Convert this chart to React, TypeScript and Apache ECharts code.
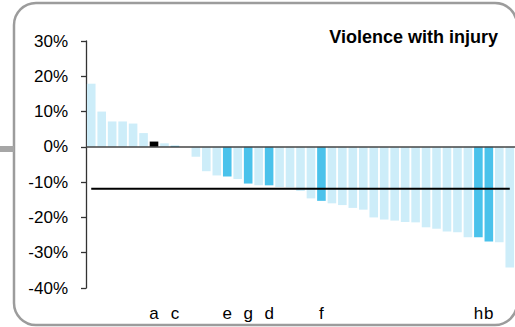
import React, { useEffect, useRef } from "react";
import * as echarts from "echarts";

const categories: string[] = [
  "", "", "", "", "", "", "a", "", "c", "",
  "", "", "", "e", "", "g", "", "d", "", "",
  "", "", "f", "", "", "", "", "", "", "",
  "", "", "", "", "", "", "", "h", "b", "", "",
];

const values: number[] = [
  17.9, 10.0, 7.2, 7.2, 6.6, 3.9, 1.5, 1.0, 0.3, 0,
  -2.8, -6.9, -8.1, -8.4, -9.1, -10.4, -10.9, -10.9, -11.4, -11.5,
  -12.5, -14.6, -15.3, -16.0, -16.5, -17.3, -17.8, -20.0, -20.6, -20.9,
  -21.3, -21.4, -22.8, -23.2, -24.0, -24.2, -25.6, -25.6, -26.8, -27.0, -34.2,
];

const blackLabels: string[] = ["a"];
const darkLabels: string[] = ["c", "e", "g", "d", "f", "h", "b"];
const average = -11.9;
const yTicks: number[] = [-40, -30, -20, -10, 0, 10, 20, 30];
const titleText = "Violence with injury";

const FONT = "'Liberation Sans', Arial, Helvetica, sans-serif";
const LIGHT = "#CDEDF9";
const DARK = "#4AC2EB";

export default function App() {
  const ref = useRef<HTMLDivElement>(null);
  useEffect(() => {
    if (!ref.current) return;
    const chart = echarts.init(ref.current, undefined, { renderer: "svg" });
    const barData = values.map((v, i) => {
      const lab = categories[i];
      let color = LIGHT;
      if (blackLabels.includes(lab)) color = "#000000";
      else if (darkLabels.includes(lab)) color = DARK;
      return { value: v, itemStyle: { color } };
    });
    chart.setOption({
      animation: false,
      grid: { left: 86, right: -1, top: 41, bottom: 39, containLabel: false },
      xAxis: {
        type: "category",
        data: categories,
        axisLine: { show: false },
        axisTick: { show: false },
        axisLabel: {
          interval: 0,
          margin: 17,
          color: "#000",
          fontSize: 17,
          fontFamily: FONT,
        },
        splitLine: { show: false },
      },
      yAxis: {
        type: "value",
        min: yTicks[0],
        max: yTicks[yTicks.length - 1],
        interval: 10,
        axisLine: { show: true, lineStyle: { color: "#333", width: 1.3 } },
        axisTick: { show: true, length: 5, lineStyle: { color: "#333", width: 1.3 } },
        axisLabel: {
          formatter: (v: number) => `${v}%`,
          color: "#000",
          fontSize: 17,
          fontFamily: FONT,
          margin: 18,
        },
        splitLine: { show: false },
      },
      series: [
        {
          type: "bar",
          data: barData,
          barWidth: 8.6,
          markLine: {
            silent: true,
            symbol: "none",
            label: { show: false },
            lineStyle: { color: "#444", width: 1.5, type: "solid" },
            data: [{ yAxis: 0 }],
          },
        },
        {
          type: "line",
          data: categories.map(() => average),
          symbol: "none",
          lineStyle: { color: "#000", width: 2 },
          z: 5,
        },
      ],
      graphic: [
        {
          type: "rect",
          shape: { x: 14, y: 3, width: 503, height: 322, r: 22 },
          style: { fill: "none", stroke: "#9C9C9C", lineWidth: 2.5 },
          z: -1,
        },
        {
          type: "rect",
          shape: { x: 0, y: 146, width: 14, height: 6 },
          style: { fill: "#A6A6A6" },
        },
        {
          type: "text",
          x: 498,
          y: 37,
          style: {
            text: titleText,
            fill: "#000",
            font: `bold 18px ${FONT}`,
            align: "right",
            verticalAlign: "middle",
          },
        },
      ],
    });
    return () => chart.dispose();
  }, []);
  return (
    <div
      ref={ref}
      style={{ position: "absolute", left: 0, top: 0, width: 515, height: 327, background: "#fff" }}
    />
  );
}
